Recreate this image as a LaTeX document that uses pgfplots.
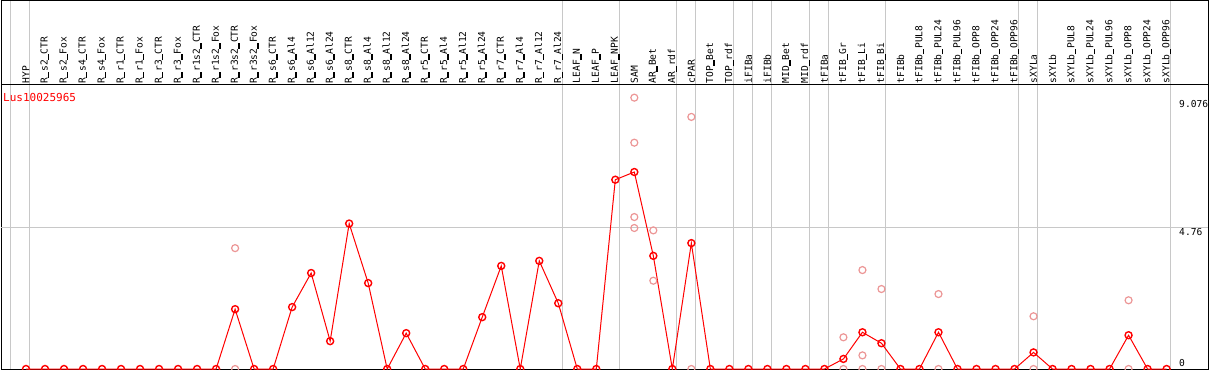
\documentclass[border=0pt]{standalone}
\usepackage{fontspec}
\setmainfont{DejaVu Sans Mono}
\setmonofont{DejaVu Sans Mono}
\usepackage{pgfplots}
\pgfplotsset{compat=1.18}
\definecolor{mainred}{RGB}{255,0,0}
\definecolor{reppink}{RGB}{236,150,150}
\definecolor{gridgray}{RGB}{200,200,200}
\newcommand{\lblfont}{\fontsize{9.6bp}{11bp}\selectfont}
\newcommand{\us}{\makebox[0.602em][c]{\rule[-0.18em]{0.6em}{1.3bp}}}
\begin{document}
\begin{tikzpicture}
\useasboundingbox (0,0) rectangle (1209bp,370bp);
\begin{axis}[
  at={(1bp,1bp)}, anchor=south west,
  width=1207bp, height=368.5bp, scale only axis,
  xmin=-1.315, xmax=62.18, ymin=0, ymax=12.44,
  clip=false,
  axis line style={black, line width=1bp},
  major tick length=0pt,
  /pgf/number format/assume math mode=true,
  xtick={-0.84,0.21,28.21,31.21,34.21,35.21,37.21,38.21,39.21,41.2,42.2,45.2,52.2,53.2,60.2},
  xticklabels={},
  xmajorgrids,
  major grid style={gridgray, line width=1bp},
  extra x ticks={0,...,60},
  extra x tick labels={HYP,R\us s2\us CTR,R\us s2\us Fox,R\us s4\us CTR,R\us s4\us Fox,R\us r1\us CTR,R\us r1\us Fox,R\us r3\us CTR,R\us r3\us Fox,R\us r1s2\us CTR,R\us r1s2\us Fox,R\us r3s2\us CTR,R\us r3s2\us Fox,R\us s6\us CTR,R\us s6\us Al4,R\us s6\us Al12,R\us s6\us Al24,R\us s8\us CTR,R\us s8\us Al4,R\us s8\us Al12,R\us s8\us Al24,R\us r5\us CTR,R\us r5\us Al4,R\us r5\us Al12,R\us r5\us Al24,R\us r7\us CTR,R\us r7\us Al4,R\us r7\us Al12,R\us r7\us Al24,LEAF\us N,LEAF\us P,LEAF\us NPK,SAM,AR\us Bet,AR\us rdf,cPAR,TOP\us Bet,TOP\us rdf,iFIBa,iFIBb,MID\us Bet,MID\us rdf,tFIBa,tFIB\us Gr,tFIB\us Li,tFIB\us Bi,tFIBb,tFIBb\us PUL8,tFIBb\us PUL24,tFIBb\us PUL96,tFIBb\us OPP8,tFIBb\us OPP24,tFIBb\us OPP96,sXYLa,sXYLb,sXYLb\us PUL8,sXYLb\us PUL24,sXYLb\us PUL96,sXYLb\us OPP8,sXYLb\us OPP24,sXYLb\us OPP96},
  extra x tick style={grid=none},
  xticklabel pos=upper,
  xticklabel shift=-83bp,
  xticklabel style={rotate=90, anchor=west, inner sep=0pt, font=\lblfont},
  ytick={4.76,9.076},
  yticklabels={4.76,9.076},
  yticklabel pos=right,
  yticklabel style={anchor=north west, inner sep=0pt, xshift=-29bp, font=\lblfont},
  extra y ticks={0},
  extra y tick labels={0},
  extra y tick style={yticklabel style={anchor=south west, yshift=2.5bp}},
]
% horizontal grid at 4.76 and header separator
\draw[gridgray, line width=1bp] (axis cs:-1.315,4.76) -- (axis cs:62.18,4.76);
\draw[black, line width=1bp] (axis cs:-1.315,9.60) -- (axis cs:62.18,9.60);
% replicate values
\addplot[only marks, mark=o, mark size=3.5bp, mark options={reppink, line width=1.2bp}] table {
x y
11 4.08
11 0
32 9.16
32 7.64
32 5.13
32 4.76
33 4.68
33 2.98
35 8.51
35 0
43 1.07
43 0
44 3.34
44 0.46
44 0
45 2.70
45 0
48 2.53
48 0
53 1.78
53 0
58 2.32
58 0
};
% mean profile
\addplot[mainred, line width=1bp, mark=o, mark size=3.5bp, mark options={mainred, line width=1.4bp}] table {
x y
0 0
1 0
2 0
3 0
4 0
5 0
6 0
7 0
8 0
9 0
10 0
11 2.02
12 0
13 0
14 2.09
15 3.24
16 0.94
17 4.91
18 2.90
19 0
20 1.21
21 0
22 0
23 0
24 1.75
25 3.48
26 0
27 3.65
28 2.22
29 0
30 0
31 6.39
32 6.65
33 3.82
34 0
35 4.25
36 0
37 0
38 0
39 0
40 0
41 0
42 0
43 0.34
44 1.24
45 0.87
46 0
47 0
48 1.24
49 0
50 0
51 0
52 0
53 0.56
54 0
55 0
56 0
57 0
58 1.14
59 0
60 0
};
\node[anchor=west, inner sep=0pt, text=mainred, font=\fontsize{11bp}{13bp}\selectfont] at (axis cs:-1.21,9.16) {Lus10025965};
\end{axis}
\end{tikzpicture}
\end{document}
